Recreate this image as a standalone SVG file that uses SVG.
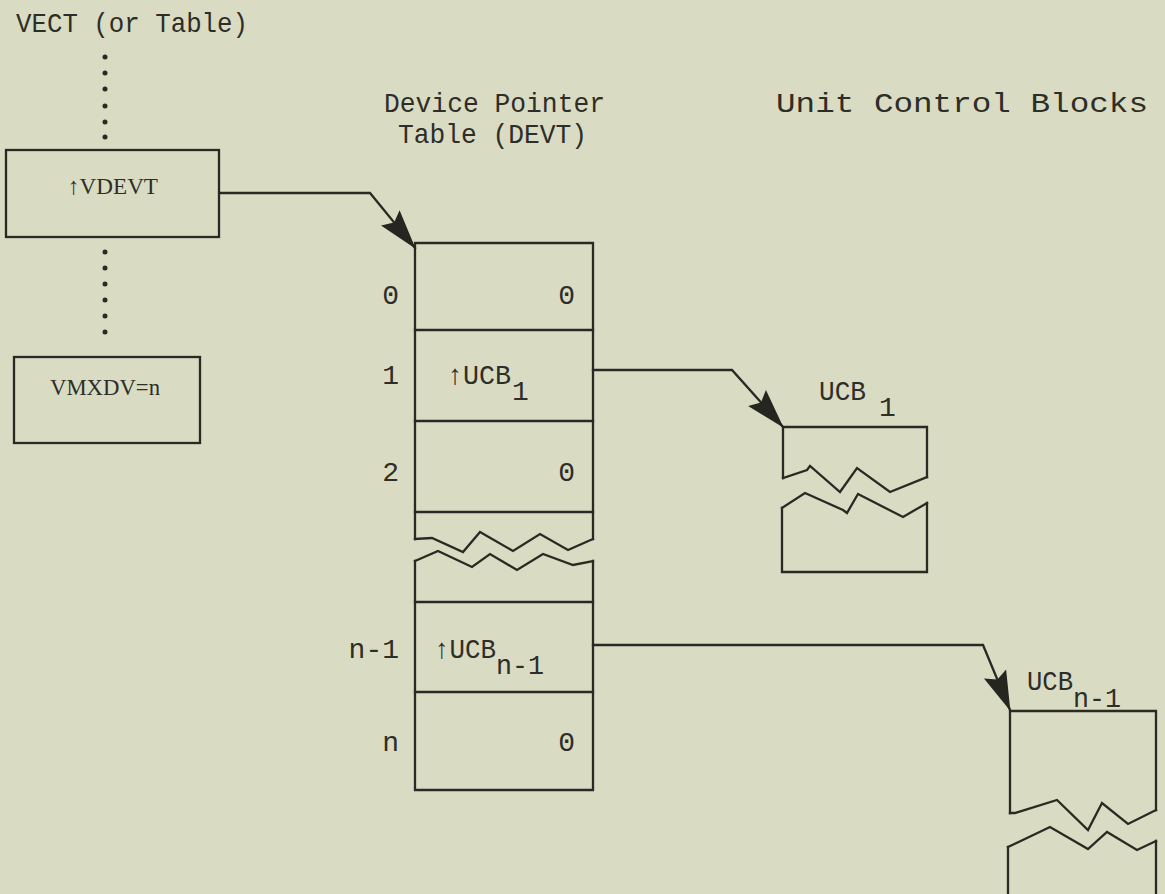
<svg xmlns="http://www.w3.org/2000/svg" width="1165" height="894" viewBox="0 0 1165 894">
<defs>
<style>
.bg{fill:#dadbc3}
.ln{fill:none;stroke:#2a2a24;stroke-width:2.3;stroke-linejoin:miter;stroke-linecap:square}
.t{font-family:"Liberation Mono","Courier New",monospace;font-size:28px;fill:#2e2e28}
.s{font-family:"Liberation Serif","Times New Roman",serif;font-size:24px;fill:#2e2e28}
.dot{fill:#2a2a24}
</style>
<marker id="ah" viewBox="0 0 40 26" refX="39" refY="13" markerWidth="40" markerHeight="26" markerUnits="userSpaceOnUse" orient="auto">
<path d="M0,1 L40,13 L0,25 L6,13 z" fill="#262620"/>
</marker>
</defs>
<rect class="bg" x="0" y="0" width="1165" height="894"/>

<g id="vect">
<text class="t" x="16" y="32" textLength="232" lengthAdjust="spacingAndGlyphs">VECT (or Table)</text>
<circle class="dot" cx="105" cy="57" r="2.5"/>
<circle class="dot" cx="105" cy="73" r="2.5"/>
<circle class="dot" cx="105" cy="89" r="2.5"/>
<circle class="dot" cx="105" cy="106" r="2.5"/>
<circle class="dot" cx="105" cy="122" r="2.5"/>
<circle class="dot" cx="105" cy="137" r="2.5"/>
<circle class="dot" cx="105" cy="252" r="2.5"/>
<circle class="dot" cx="105" cy="268" r="2.5"/>
<circle class="dot" cx="105" cy="284" r="2.5"/>
<circle class="dot" cx="105" cy="300" r="2.5"/>
<circle class="dot" cx="105" cy="316" r="2.5"/>
<circle class="dot" cx="105" cy="332" r="2.5"/>
</g>

<g id="vdevt">
<rect class="ln" x="6" y="150" width="213" height="87"/>
<text class="s" x="113" y="194" text-anchor="middle" textLength="90" lengthAdjust="spacingAndGlyphs">↑VDEVT</text>
</g>

<g id="vmxdv">
<rect class="ln" x="14" y="357" width="186" height="86"/>
<text class="s" x="50" y="395" textLength="110" lengthAdjust="spacingAndGlyphs">VMXDV=n</text>
</g>

<g id="devt-header">
<text class="t" x="384" y="112" textLength="221" lengthAdjust="spacingAndGlyphs">Device Pointer</text>
<text class="t" x="398" y="143" textLength="189" lengthAdjust="spacingAndGlyphs">Table (DEVT)</text>
</g>

<g id="ucb-header">
<text class="t" x="776" y="112" textLength="372" lengthAdjust="spacingAndGlyphs">Unit Control Blocks</text>
</g>

<g id="devt">
<path class="ln" d="M415,539 L415,243 L593,243 L593,539"/>
<line class="ln" x1="415" y1="330" x2="593" y2="330"/>
<line class="ln" x1="415" y1="421" x2="593" y2="421"/>
<line class="ln" x1="415" y1="512" x2="593" y2="512"/>
<polyline class="ln" points="415,539 432,538 463,552 480,532 513,551 540,534 568,550 593,539"/>
<polyline class="ln" points="415,561 438,551 472,567 490,554 517,570 543,554 573,565 593,561"/>
<path class="ln" d="M415,561 L415,790 L593,790 L593,561"/>
<line class="ln" x1="415" y1="602" x2="593" y2="602"/>
<line class="ln" x1="415" y1="692" x2="593" y2="692"/>
<text class="t" x="399" y="304" text-anchor="end">0</text>
<text class="t" x="575" y="304" text-anchor="end">0</text>
<text class="t" x="399" y="384" text-anchor="end">1</text>
<text class="t" x="447" y="384" textLength="64" lengthAdjust="spacingAndGlyphs">↑UCB</text>
<text class="t" x="512" y="400">1</text>
<text class="t" x="399" y="481" text-anchor="end">2</text>
<text class="t" x="575" y="481" text-anchor="end">0</text>
<text class="t" x="399" y="658" text-anchor="end">n-1</text>
<text class="t" x="434" y="658" textLength="62" lengthAdjust="spacingAndGlyphs">↑UCB</text>
<text class="t" x="496" y="674" textLength="48" lengthAdjust="spacingAndGlyphs">n-1</text>
<text class="t" x="399" y="751" text-anchor="end">n</text>
<text class="t" x="575" y="751" text-anchor="end">0</text>
</g>

<g id="ucb1">
<text class="t" x="819" y="400" textLength="47" lengthAdjust="spacingAndGlyphs">UCB</text>
<text class="t" x="879" y="416">1</text>
<path class="ln" d="M783,478 L783,427 L927,427 L927,477"/>
<polyline class="ln" points="783,478 807,470 810,466 840,492 857,468 890,492 927,477"/>
<polyline class="ln" points="782,508 805,493 843,510 847,513 858,494 903,517 927,503"/>
<path class="ln" d="M782,508 L782,572 L927,572 L927,503"/>
</g>

<g id="ucbn1">
<text class="t" x="1027" y="690" textLength="46" lengthAdjust="spacingAndGlyphs">UCB</text>
<text class="t" x="1073" y="707" textLength="48" lengthAdjust="spacingAndGlyphs">n-1</text>
<path class="ln" d="M1010,813 L1010,711 L1156,711 L1156,810"/>
<polyline class="ln" points="1010,813 1015,813 1057,800 1088,830 1102,803 1128,824 1156,810"/>
<polyline class="ln" points="1008,847 1050,827 1088,849 1107,832 1137,850 1156,841"/>
<path class="ln" d="M1008,847 L1008,900 M1156,841 L1156,900"/>
</g>

<g id="connectors">
<polyline class="ln" points="220,193 370,193 415,248" marker-end="url(#ah)"/>
<polyline class="ln" points="593,370 732,370 783,427" marker-end="url(#ah)"/>
<polyline class="ln" points="593,645 983,645 1010,710" marker-end="url(#ah)"/>
</g>
</svg>
